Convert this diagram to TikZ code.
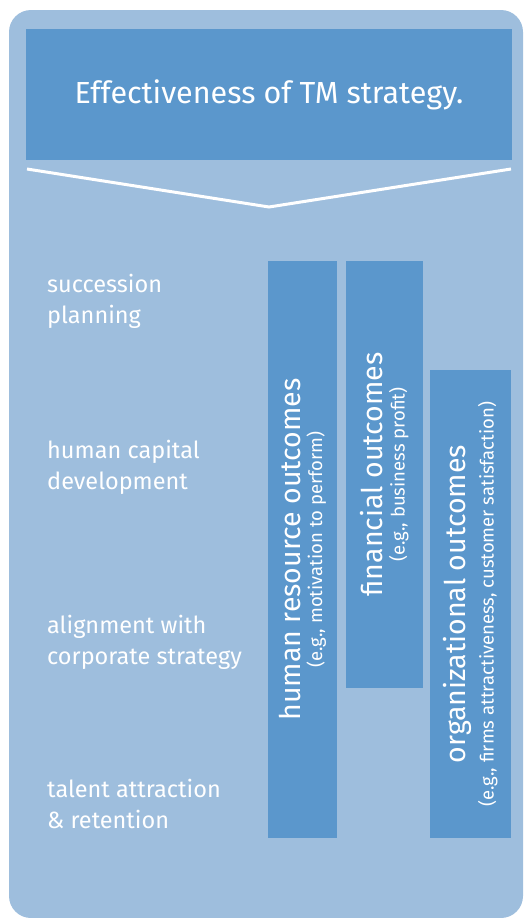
\documentclass[tikz,border=0pt]{standalone}
\usepackage{fontspec}
\setmainfont{Fira Sans}
\definecolor{bgblue}{RGB}{158,190,221}
\definecolor{boxblue}{RGB}{91,151,204}
\tikzset{
	outbox/.style={fill=boxblue, text=white, rotate=90, align=center, inner sep=0pt},
	sidelabel/.style={anchor=west, align=left, text=white, inner sep=0pt, font=\fontsize{23.5}{31}\selectfont},
}
\newcommand{\outtext}[2]{{\fontsize{28.5}{30}\selectfont #1}\\[5pt]{\fontsize{18.5}{19}\selectfont #2}}
\begin{document}
\begin{tikzpicture}[x=1pt,y=-1pt]
	\useasboundingbox (0,0) rectangle (524,918);

	%background panel
	\fill[bgblue, rounded corners=22pt] (9,10) rectangle (523,918);

	%title
	\node[fill=boxblue, text=white, minimum width=486pt, minimum height=131pt, inner sep=0pt, font=\fontsize{30.5}{34}\selectfont] (title) at (269,94.5) {Effectiveness of TM strategy.};
	\coordinate (chevL) at (27,169);
	\coordinate (chevM) at (269,207);
	\coordinate (chevR) at (511,169);
	\draw[white, line width=3pt] (chevL) -- (chevM) -- (chevR);

	%left labels
	\node[sidelabel] (succ) at (47,301) {succession\\planning};
	\node[sidelabel] (human) at (47,467) {human capital\\development};
	\node[sidelabel] (align) at (47,642.5) {alignment with\\corporate strategy};
	\node[sidelabel] (talent) at (47,804) {talent attraction\\\& retention};

	%outcome boxes
	\node[outbox, minimum width=577pt, minimum height=69pt] (hr) at (302.5,549.5) {\outtext{human resource outcomes}{(e.g., motivation to perform)}};
	\node[outbox, minimum width=427pt, minimum height=77pt] (fin) at (384.5,474.5) {\outtext{financial outcomes}{(e.g., business profit)}};
	\node[outbox, minimum width=468pt, minimum height=81pt] (org) at (470.5,604) {\outtext{organizational outcomes}{(e.g., firms attractiveness, customer satisfaction)}};

\end{tikzpicture}
\end{document}
